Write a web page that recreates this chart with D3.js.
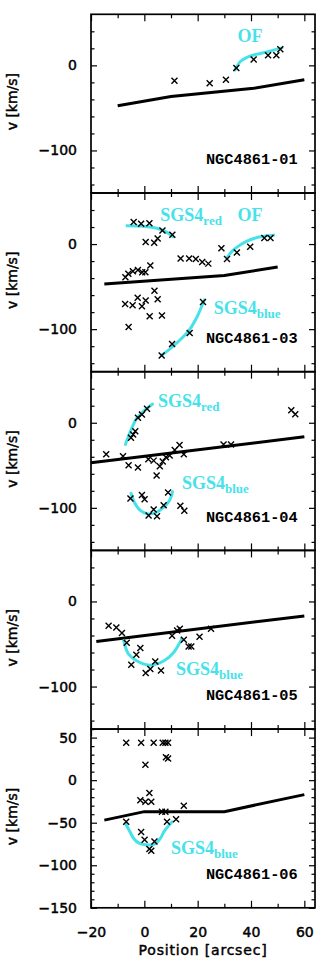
<!DOCTYPE html>
<html>
<head>
<meta charset="utf-8">
<script src="https://cdn.jsdelivr.net/npm/d3@7"></script>
<style>
  body { margin: 0; background: #fff; }
  svg { display: block; }
</style>
</head>
<body>
<div id="chart"></div>
<script>
//---------------------------------//
// Data         //
//---------------------------------//

var slitNames = ['NGC4861-01', 'NGC4861-03', 'NGC4861-04', 'NGC4861-05', 'NGC4861-06'];

// measured velocities [position, v]
var crosses01 = [[11.3,-18],[24.5,-21],[30.6,-17],[34.5,-3],[41,7],[46.4,12],[49.5,12],[51,19]];
var crosses03 = [
    [-4,26],[-1.2,24],[1.9,24.5],[6.8,16],[10.5,11],[0.5,2.5],[3.7,1.5],[5,6.5],
    [-7.1,-39],[-6,-35],[-4.3,-32],[-2.4,-30.5],[-0.8,-33],[0.4,-33],[2.25,-25.3],
    [13.6,-17],[16.8,-17],[19.3,-17.5],[21.7,-21],[24,-23],
    [28.9,-5],[31,-17.5],[34.7,-10],[39.7,-3.2],[45,7],[47.3,7],
    [-7.2,-70.5],[-4.4,-72],[-2.5,-63],[-0.9,-73],[0.5,-66.3],[3.8,-55],[5,-65],[2,-84.8],[6.6,-84],[-5.9,-97.6],
    [6.5,-131],[10.4,-117.5],[17,-104.5],[22,-68]
];
var crosses04 = [
    [-14.3,-37],[-8,-39.5],[-5.9,-50],[-2.4,-52.5],
    [-5,-17.7],[-4.2,-13.8],[-3.4,-10],[-2.4,6],[-0.9,9.8],[1,16.4],
    [1.5,-43],[3.5,-44.5],[4.6,-62],[5.8,-51],[6.9,-45.5],[8.1,-40.6],[9.5,-38.5],[11.4,-32],[13.2,-26],[14.8,-37],
    [29.7,-25.5],[32.5,-25.5],[55.1,14.6],[56.6,10],
    [-5.2,-89],[-0.9,-85],[0.1,-90],[1.6,-109],[3.5,-102],[4.75,-110],[7.25,-97],[8.9,-82],[13.5,-97.6],[15,-103.5]
];
var crosses05 = [
    [-13.4,-28.6],[-10.5,-30.6],[-8.4,-37],[-6.6,-48.5],[-4.9,-74.5],[-3,-62.7],[-1.5,-54.8],
    [0.5,-84],[2.25,-79.5],[4.1,-70.6],[6.25,-81],
    [10.4,-40.4],[12.3,-34],[13.3,-32],[14.8,-45],[16.6,-53],[17.6,-53],[20.7,-41.5],[25,-32]
];
var crosses06 = [
    [-6.8,44],[-1.2,44],[3.5,44],[6.9,44],[7.9,44],[8.9,44],[8.1,27],[8.9,25.5],[0.4,18],
    [1.9,-15],[-1.5,-23.5],[0.4,-25.5],[2.6,-25.5],[6.6,-37],[7.9,-37],[14.8,-30],
    [-6.8,-49],[-1.2,-61],[0.1,-70],[1.9,-81],[2.6,-83],[3.8,-72],[8.5,-49],[11.9,-46]
];

// model rotation curve along each slit
var rotation01 = [[-10,-47.5],[10,-36.5],[41,-27],[60,-17]];
var rotation03 = [[-15,-47],[30,-37],[50,-27]];
var rotation04 = [[-20,-47],[60,-16.5]];
var rotation05 = [[-18,-47],[60,-17]];
var rotation06 = [[-15,-47],[0,-37],[30,-37],[60,-17]];

// cyan kinematic components
var outflow01  = [[34,-5.5],[36,4.5],[38.5,9.5],[42.3,13.2],[46,15.8],[51.6,20.5]];
var outflow03  = [[31,-16],[33,-8],[35,-3],[38.5,3.5],[43.5,8.5],[48.5,10.5]];
var sgsRed03   = [[-6.5,21.5],[-0.3,20.8],[4.8,18.4],[8.5,13.7],[10.8,8.6]];
var sgsBlue03  = [[6.4,-131],[11,-119.5],[16.6,-102],[19.7,-86],[22.5,-65.5]];
var sgsRed04   = [[-7.1,-25.5],[-5.2,-10],[-2.8,5.5],[0.4,15.5],[3.1,22]];
var sgsBlue04  = [[-5,-83],[-3.5,-95],[-1.5,-103],[1,-107],[4,-106],[7,-100],[9.5,-91],[10.6,-81]];
var sgsBlue05  = [[-7.75,-46],[-5.9,-62],[-2.75,-70],[2.25,-75],[7.25,-70],[11,-60],[14.1,-43.5]];
var sgsBlue06  = [[-7.1,-51],[-5.5,-60],[-4,-68.5],[-2,-74],[0.5,-76],[3,-76],[4.5,-74],[6,-68.5],[7.5,-60],[10.4,-49]];

// axis ticks
var xMajorTicks = [-20, 0, 20, 40, 60];
var xMinorTicks = [-10, 10, 30, 50];
var yMajorTicks = [0, -100];
var yMinorTicks = [40, 20, -20, -40, -60, -80, -120, -140];
var yMajorTicksLast = [50, 0, -50, -100, -150];
var yMinorTicksLast = [60, 40, 30, 20, 10, -10, -20, -30, -40, -60, -70, -80, -90, -110, -120, -130, -140];

//---------------------------------//
// Chart object                     //
//---------------------------------//

window.Chart = window.Chart || {};

Chart.init = function() {
    Chart.setup.initConsts();
    Chart.setup.initPanels();
    Chart.setup.initSvg();
    Chart.panels.forEach(function(p, i) { Chart.core.drawPanel(p, i); });
    Chart.core.drawTitles();
};

Chart.setup = {
    initConsts: function() {
        Chart.width = 332;
        Chart.height = 966;
        Chart.left = 91;                 //frame edges
        Chart.right = 315;
        Chart.top = 14.3;
        Chart.panelH = 178.7;
        Chart.cyan = '#46e2ea';
        Chart.x = d3.scaleLinear().domain([-20, 64]).range([Chart.left, Chart.right]);
    },

    initPanels: function() {
        // label spots are in data units of each panel (x start, baseline v)
        Chart.panels = [
            {crosses: crosses01, rotation: rotation01, curves: [outflow01],
             labels: [{t: 'OF', x: 34.9, v: 27.8}]},
            {crosses: crosses03, rotation: rotation03, curves: [sgsRed03, outflow03, sgsBlue03],
             labels: [{t: 'SGS4', sub: 'red', x: 6, v: 26.6}, {t: 'OF', x: 34.9, v: 26.6},
                      {t: 'SGS4', sub: 'blue', x: 26, v: -81.8}]},
            {crosses: crosses04, rotation: rotation04, curves: [sgsRed04, sgsBlue04],
             labels: [{t: 'SGS4', sub: 'red', x: 5.1, v: 18.2}, {t: 'SGS4', sub: 'blue', x: 14.1, v: -77.7}]},
            {crosses: crosses05, rotation: rotation05, curves: [sgsBlue05],
             labels: [{t: 'SGS4', sub: 'blue', x: 11.9, v: -86.5}]},
            {crosses: crosses06, rotation: rotation06, curves: [sgsBlue06],
             labels: [{t: 'SGS4', sub: 'blue', x: 10, v: -86.5}]}
        ];
        Chart.panels.forEach(function(p, i) { p.name = slitNames[i]; });
    },

    initSvg: function() {
        Chart.svg = d3.select('#chart').append('svg')
                      .attr('width', Chart.width)
                      .attr('height', Chart.height);
    }
};

Chart.helpers = {
    heavyText: function(sel) {        //plot font is drawn with thick strokes
        sel.attr('fill', '#000').attr('stroke', '#000').attr('stroke-width', 0.45)
           .style('font-family', '"DejaVu Sans", sans-serif').style('font-size', '14px');
    }
};

Chart.core = {
    drawPanel: function(p, i) {
        var last = (i === Chart.panels.length - 1);
        var y0 = Chart.top + i * Chart.panelH;
        var y = d3.scaleLinear().domain([-150, 60]).range([y0 + Chart.panelH, y0]);
        var g = Chart.svg.append('g');

        // rotation model
        var line = d3.line().x(function(d) { return Chart.x(d[0]); }).y(function(d) { return y(d[1]); });
        g.append('path').attr('d', line(p.rotation))
         .attr('fill', 'none').attr('stroke', '#000').attr('stroke-width', 3);

        // cyan components
        var smooth = d3.line().curve(d3.curveCatmullRom)
                       .x(function(d) { return Chart.x(d[0]); }).y(function(d) { return y(d[1]); });
        p.curves.forEach(function(c) {
            g.append('path').attr('d', smooth(c))
             .attr('fill', 'none').attr('stroke', Chart.cyan)
             .attr('stroke-width', 3).attr('stroke-linecap', 'round');
        });

        // measured points
        g.selectAll('.cross').data(p.crosses).enter().append('path')
         .attr('class', 'cross')
         .attr('transform', function(d) { return 'translate(' + Chart.x(d[0]) + ',' + y(d[1]) + ')'; })
         .attr('d', 'M-3,-3L3,3M-3,3L3,-3')
         .attr('stroke', '#000').attr('stroke-width', 1.4);

        // component labels
        p.labels.forEach(function(l) {
            var t = g.append('text').attr('x', Chart.x(l.x)).attr('y', y(l.v))
                     .attr('fill', Chart.cyan)
                     .style('font-family', '"Liberation Serif", serif')
                     .style('font-weight', 'bold').style('font-size', '18px')
                     .text(l.t);
            if (l.sub) {
                t.append('tspan').attr('dy', 4).style('font-size', '13px').text(l.sub);
            }
        });

        // slit name
        g.append('text').attr('x', Chart.x(23.1)).attr('y', y(-110)).attr('dy', '0.35em')
         .style('font-family', '"Liberation Mono", monospace').style('font-weight', 'bold')
         .style('font-size', '15.3px').text(p.name);

        Chart.core.drawAxes(g, y, last);
    },

    drawAxes: function(g, y, last) {
        var major = last ? yMajorTicksLast : yMajorTicks;
        var minor = last ? yMinorTicksLast : yMinorTicks;
        var fmt = function(d) { return d < 0 ? '\u2212' + Math.abs(d) : d; };

        var axes = [
            [d3.axisLeft(y).tickValues(major).tickSize(-6).tickPadding(14).tickFormat(fmt), Chart.left, 0],
            [d3.axisLeft(y).tickValues(minor).tickSize(-3.5).tickFormat(''), Chart.left, 0],
            [d3.axisRight(y).tickValues(major).tickSize(-6).tickFormat(''), Chart.right, 0],
            [d3.axisRight(y).tickValues(minor).tickSize(-3.5).tickFormat(''), Chart.right, 0],
            [d3.axisTop(Chart.x).tickValues(xMajorTicks).tickSize(-7).tickFormat(''), 0, y.range()[1]],
            [d3.axisTop(Chart.x).tickValues(xMinorTicks).tickSize(-4).tickFormat(''), 0, y.range()[1]],
            [d3.axisBottom(Chart.x).tickValues(xMajorTicks).tickSize(-7).tickPadding(19)
                .tickFormat(last ? fmt : ''), 0, y.range()[0]],
            [d3.axisBottom(Chart.x).tickValues(xMinorTicks).tickSize(-4).tickFormat(''), 0, y.range()[0]]
        ];
        axes.forEach(function(a) {
            var ax = g.append('g').attr('transform', 'translate(' + a[1] + ',' + a[2] + ')').call(a[0]);
            ax.select('.domain').remove();
            ax.selectAll('line').attr('stroke', '#000').attr('stroke-width', 1.2);
            ax.selectAll('text').call(Chart.helpers.heavyText);
        });

        // frame
        g.append('rect').attr('x', Chart.left).attr('y', y.range()[1])
         .attr('width', Chart.right - Chart.left).attr('height', y.range()[0] - y.range()[1])
         .attr('fill', 'none').attr('stroke', '#000').attr('stroke-width', 1.7);

        // y title
        var cy = (y.range()[0] + y.range()[1]) / 2 - 2;
        g.append('text').attr('transform', 'translate(17,' + cy + ') rotate(-90)')
         .attr('text-anchor', 'middle')
         .call(Chart.helpers.heavyText)
         .text('v [km/s]');
    },

    drawTitles: function() {
        Chart.svg.append('text').attr('x', (Chart.left + Chart.right) / 2).attr('y', 955)
           .attr('text-anchor', 'middle')
           .call(Chart.helpers.heavyText)
           .style('letter-spacing', '0.8px')
           .text('Position [arcsec]');
    }
};

document.addEventListener('DOMContentLoaded', Chart.init);
</script>
</body>
</html>
